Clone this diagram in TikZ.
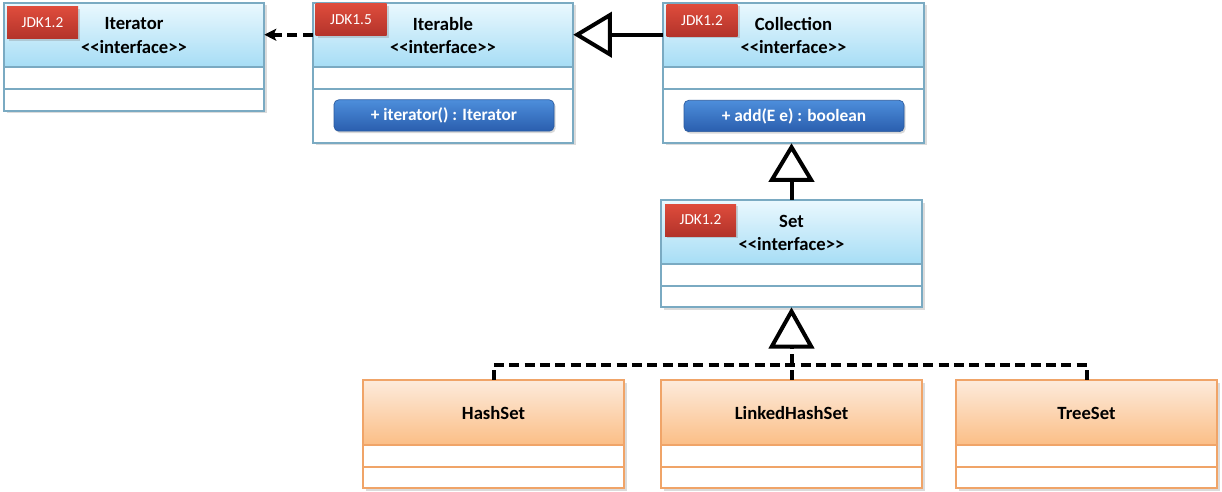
\documentclass[tikz,border=0pt]{standalone}
\usepackage{fontspec}
\setmainfont{Carlito}
\usetikzlibrary{arrows.meta,shadows,fit,calc}
\definecolor{ihtop}{HTML}{EAF8FE}
\definecolor{ihbot}{HTML}{A6DDF5}
\definecolor{iborder}{HTML}{7AAAC2}
\definecolor{ohtop}{HTML}{FDEBDC}
\definecolor{ohbot}{HTML}{FBBE86}
\definecolor{oborder}{HTML}{F0A468}
\definecolor{tagtop}{HTML}{DE4C3C}
\definecolor{tagbot}{HTML}{B3332A}
\definecolor{btntop}{HTML}{4D8EDB}
\definecolor{btnbot}{HTML}{2A5EAE}
\definecolor{btnborder}{HTML}{2A5A9E}
\newcommand\classbox[8]{% name, x1, y1, x2, yh, yd, yb, colour prefix
  \fill[black,opacity=0.14] (#2+2.5,#3+2.5) rectangle (#4+2.5,#7+2.5);
  \shadedraw[top color=#8htop,bottom color=#8hbot,draw=#8border,line width=0.8pt] (#2,#3) rectangle (#4,#5);
  \draw[#8border,fill=white,line width=0.8pt] (#2,#5) rectangle (#4,#6);
  \draw[#8border,fill=white,line width=0.8pt] (#2,#6) rectangle (#4,#7);
  \node[fit={(#2,#3) (#4,#7)},inner sep=0pt] (#1) {};
}
\tikzset{
  ttl/.style={inner sep=0pt,font=\fontsize{14}{16}\selectfont\bfseries},
  tagbox/.style={minimum width=53.25pt,minimum height=24pt,inner sep=0pt,
    top color=tagtop,bottom color=tagbot,text=white,
    font=\fontsize{11.5}{13}\selectfont,
    drop shadow={opacity=0.3,shadow xshift=1.5pt,shadow yshift=-1.5pt}},
  btn/.style={rounded corners=3.5pt,minimum width=165pt,minimum height=23.5pt,inner sep=0pt,
    top color=btntop,bottom color=btnbot,draw=btnborder,line width=0.5pt,text=white,
    font=\fontsize{13}{15}\selectfont\bfseries,
    drop shadow={opacity=0.3,shadow xshift=1.2pt,shadow yshift=-1.5pt}},
  dep/.style={line width=3pt,dash pattern=on 7.5pt off 4pt,-{Stealth[length=9pt,width=9pt,inset=2pt]}},
  gen/.style={line width=3pt,-{Triangle[open,length=29pt,width=34pt,fill=white]}},
  real/.style={line width=3pt,dash pattern=on 7.5pt off 4pt},
}
\newcommand\ifc{<\kern0pt<interface>\kern0pt>}
\begin{document}
\begin{tikzpicture}[x=0.75pt,y=-0.75pt]
\useasboundingbox (0,0) rectangle (1222,492);
% interfaces
\classbox{iterator}{4}{3}{264}{67}{89}{111}{i}
\classbox{iterable}{313}{3}{573}{67}{89}{143}{i}
\classbox{collection}{663}{3}{924}{67}{89}{143}{i}
\classbox{set}{661}{200}{922}{264}{286}{307}{i}
% implementations
\classbox{hashset}{363}{380}{624}{445}{467}{488}{o}
\classbox{lhs}{661}{380}{922}{445}{467}{488}{o}
\classbox{treeset}{956}{380}{1217}{445}{467}{488}{o}
% tags
\node[tagbox] (tagiterator) at (42.5,23) {JDK1.2};
\node[tagbox] (tagiterable) at (351,20) {JDK1.5};
\node[tagbox] (tagcollection) at (702,20.5) {JDK1.2};
\node[tagbox] (tagset) at (700.5,220) {JDK1.2};
% titles
\node[ttl] (titerator) at (134,24) {Iterator};
\node[ttl] (iiterator) at (134,47) {\ifc};
\node[ttl] (titerable) at (443,24) {Iterable};
\node[ttl] (iiterable) at (443,47) {\ifc};
\node[ttl] (tcollection) at (793.5,24) {Collection};
\node[ttl] (icollection) at (793.5,47) {\ifc};
\node[ttl] (tset) at (791.5,221) {Set};
\node[ttl] (iset) at (791.5,244) {\ifc};
\node[ttl] (thashset) at (493.5,413) {HashSet};
\node[ttl] (tlhs) at (791.5,413) {LinkedHashSet};
\node[ttl] (ttreeset) at (1086.5,413) {TreeSet};
% methods
\node[btn] (mitr) at (444,115.5) {+ iterator() : Iterator};
\node[btn] (madd) at (794,116) {+ add(E e) : boolean};
% connectors
\draw[dep] ([yshift=-24pt]iterable.north west) -- ([yshift=-24pt]iterator.north east);
\draw[gen] ([yshift=-24pt]collection.north west) -- ([yshift=-24pt]iterable.north east);
\draw[gen] (set.north) -- (set.north |- collection.south);
\draw[real] (hashset.north) -- ++(0,-15) -| (treeset.north);
\draw[real,-{Triangle[open,length=31pt,width=34pt,fill=white]}] (lhs.north) -- (lhs.north |- set.south);
\end{tikzpicture}
\end{document}
